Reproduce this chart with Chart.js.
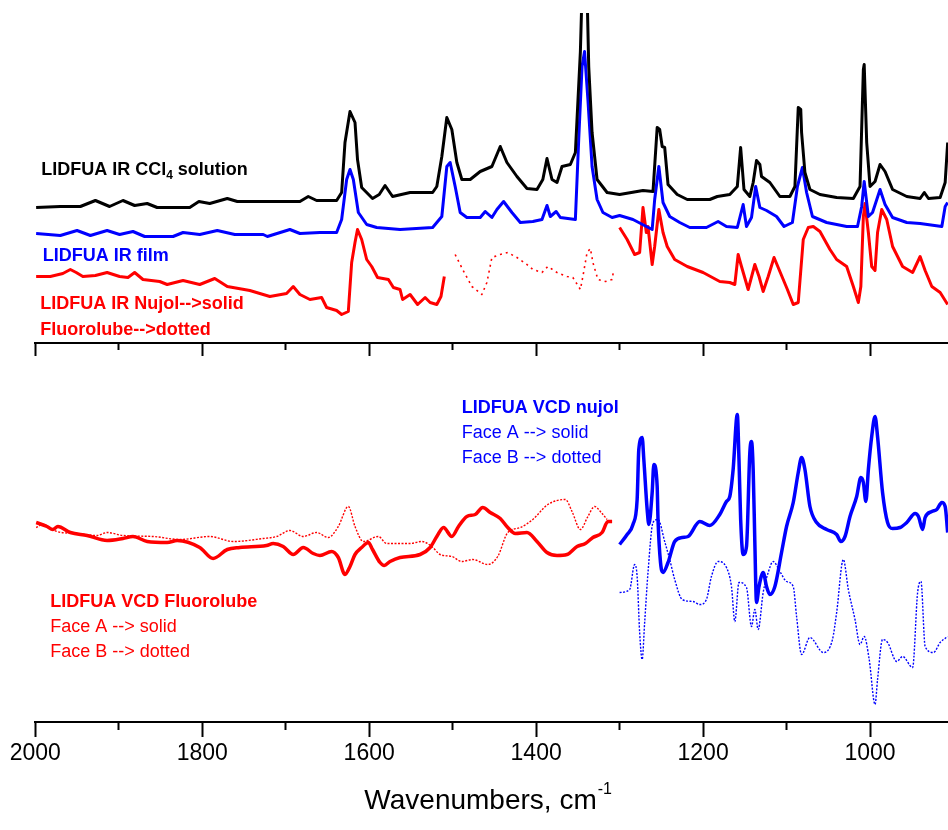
<!DOCTYPE html>
<html>
<head>
<meta charset="utf-8">
<script src="https://cdn.jsdelivr.net/npm/chart.js@4.4.0/dist/chart.umd.min.js"></script>
<style>
  html, body { margin: 0; padding: 0; background: #fff; }
  #wrap { width: 948px; height: 830px; }
</style>
</head>
<body>
<div id="wrap"><canvas id="grafico"></canvas></div>
<script>
// IR spectra (top) and VCD spectra (bottom), wavenumbers in cm-1,
// intensities in arbitrary units (each trace carries its own vertical offset)

// IR, CCl4 solution (black)
const ccl4Wn = [1999, 1970, 1946, 1928, 1911, 1895, 1881, 1866, 1854, 1815, 1804, 1791, 1770, 1758, 1683, 1673, 1663, 1639, 1633, 1629, 1623, 1617, 1614, 1609, 1596, 1588, 1581, 1572, 1551, 1524, 1519, 1513, 1507, 1501, 1495, 1489, 1479, 1467, 1453, 1443, 1435, 1423, 1411, 1399, 1392, 1387, 1381, 1375, 1369, 1359, 1353, 1347, 1345, 1339, 1337, 1333, 1327, 1315, 1300, 1272, 1260, 1255, 1252, 1249, 1246, 1242, 1231, 1219, 1192, 1183, 1168, 1159, 1155, 1151, 1144, 1140, 1136, 1132, 1130, 1120, 1108, 1096, 1090, 1086, 1083, 1082, 1078, 1072, 1060, 1040, 1020, 1012, 1008, 1007, 1004, 1000, 994, 988, 982, 973, 956, 940, 935, 930, 916, 910, 907];
const ccl4Abs = [51.4, 51.5, 51.5, 52.1, 51.5, 52.1, 51.6, 51.8, 51.4, 51.4, 52.0, 51.8, 52.3, 52.0, 52.0, 52.5, 52.1, 52.1, 52.9, 57.9, 61.0, 59.9, 56.2, 53.4, 52.3, 52.7, 53.6, 52.5, 52.9, 52.9, 53.5, 56.5, 60.4, 59.2, 55.9, 54.2, 54.2, 55.0, 55.5, 57.5, 55.9, 54.5, 53.3, 53.2, 54.2, 56.3, 54.2, 53.9, 55.5, 55.7, 56.9, 67.0, 73.0, 73.0, 65.5, 58.9, 54.2, 52.9, 52.7, 53.1, 53.0, 59.4, 59.2, 57.5, 57.4, 53.7, 52.7, 52.2, 52.2, 52.5, 52.7, 53.5, 57.4, 53.2, 52.5, 53.9, 56.1, 55.7, 54.5, 53.9, 52.5, 52.5, 53.5, 61.4, 61.2, 58.9, 54.9, 53.2, 52.7, 52.4, 52.3, 53.5, 65.2, 65.7, 57.9, 53.5, 54.0, 55.7, 55.0, 53.2, 52.5, 52.3, 52.9, 52.3, 52.4, 53.9, 57.9];

// IR, film (blue)
const filmWn = [1999, 1970, 1950, 1934, 1914, 1899, 1883, 1869, 1835, 1823, 1803, 1782, 1761, 1727, 1722, 1695, 1683, 1659, 1639, 1633, 1627, 1623, 1619, 1613, 1603, 1591, 1563, 1524, 1513, 1507, 1503, 1497, 1491, 1483, 1467, 1461, 1453, 1447, 1439, 1429, 1419, 1404, 1393, 1387, 1383, 1376, 1371, 1353, 1349, 1345, 1342, 1338, 1333, 1327, 1320, 1309, 1300, 1284, 1261, 1258, 1253, 1248, 1240, 1228, 1216, 1196, 1182, 1172, 1159, 1152, 1148, 1142, 1137, 1132, 1124, 1112, 1103, 1093, 1087, 1081, 1076, 1069, 1052, 1028, 1015, 1010, 1007, 1002, 997, 988, 982, 973, 956, 940, 914, 910, 907];
const filmAbs = [48.8, 48.6, 49.1, 48.6, 49.1, 48.7, 49.0, 48.5, 48.5, 48.9, 48.7, 49.1, 48.7, 48.7, 48.5, 49.2, 48.8, 48.9, 48.9, 50.2, 54.2, 55.2, 54.2, 50.9, 49.7, 49.4, 49.2, 49.4, 50.5, 55.5, 55.9, 53.5, 50.9, 50.4, 50.4, 51.0, 50.4, 51.2, 52.0, 50.9, 49.9, 50.0, 50.2, 51.6, 50.5, 51.0, 50.4, 50.2, 58.2, 65.5, 67.0, 62.2, 55.5, 52.2, 50.9, 50.4, 50.6, 50.2, 49.2, 52.2, 55.5, 51.9, 50.5, 49.9, 49.4, 49.4, 50.0, 49.5, 49.4, 51.7, 49.5, 50.4, 53.5, 51.4, 51.1, 50.5, 49.5, 49.9, 53.5, 55.4, 52.9, 50.5, 49.9, 49.5, 49.5, 51.5, 54.0, 50.5, 50.9, 53.2, 51.7, 50.4, 49.9, 49.8, 49.5, 51.5, 51.9];

// IR, Nujol mull (red solid), two windows
const nujolWnA = [1999, 1982, 1967, 1958, 1951, 1943, 1928, 1914, 1899, 1889, 1881, 1871, 1851, 1842, 1823, 1803, 1785, 1770, 1743, 1719, 1699, 1691, 1683, 1671, 1657, 1651, 1639, 1633, 1625, 1621, 1617, 1614, 1609, 1603, 1597, 1590, 1577, 1571, 1563, 1560, 1551, 1542, 1533, 1527, 1519, 1514, 1510];
const nujolAbsA = [44.5, 44.5, 44.8, 45.2, 44.9, 44.5, 44.6, 44.9, 44.5, 44.4, 44.9, 44.2, 44.0, 43.7, 44.1, 43.7, 44.3, 43.5, 43.1, 42.5, 42.8, 43.5, 42.7, 42.2, 42.4, 41.4, 41.1, 40.7, 41.0, 45.9, 47.9, 49.2, 48.2, 46.2, 45.5, 44.4, 44.2, 43.4, 43.2, 42.2, 42.7, 41.7, 42.4, 41.9, 41.7, 42.5, 44.5];
const nujolWnB = [1300, 1291, 1282, 1276, 1272, 1268, 1266, 1261, 1258, 1253, 1248, 1243, 1234, 1219, 1200, 1180, 1168, 1162, 1158, 1154, 1146, 1138, 1133, 1128, 1122, 1115, 1108, 1099, 1092, 1086, 1080, 1074, 1068, 1060, 1048, 1040, 1028, 1020, 1014, 1011, 1008, 1006, 1002, 998, 994, 991, 986, 980, 973, 961, 949, 940, 934, 926, 916, 907];
const nujolAbsB = [49.4, 48.2, 46.7, 46.9, 51.4, 48.9, 49.5, 45.7, 47.5, 51.2, 48.9, 47.5, 46.2, 45.5, 44.9, 44.0, 43.9, 43.7, 46.7, 45.5, 43.2, 45.7, 44.5, 43.0, 44.5, 46.4, 45.0, 43.2, 41.7, 41.9, 48.2, 49.4, 49.5, 49.0, 47.2, 46.2, 45.5, 43.5, 41.9, 43.5, 50.5, 51.8, 48.9, 45.5, 45.1, 48.9, 51.2, 50.2, 47.5, 45.5, 44.9, 46.5, 45.1, 43.5, 42.9, 41.7];

// IR, Fluorolube mull (red dotted)
const fluoroWn = [1497, 1488, 1477, 1465, 1459, 1453, 1443, 1434, 1423, 1411, 1404, 1393, 1386, 1375, 1363, 1356, 1347, 1344, 1339, 1335, 1332, 1326, 1317, 1309, 1307];
const fluoroAbs = [46.7, 45.2, 43.5, 42.7, 43.9, 46.4, 46.7, 46.9, 46.4, 45.7, 45.2, 44.9, 45.5, 44.9, 44.5, 44.4, 43.2, 44.5, 46.9, 47.3, 45.9, 44.2, 44.0, 44.2, 45.2];

// VCD, Fluorolube, face A (red solid) and face B (red dotted)
const vcdFluoroWnA = [1999, 1986, 1979, 1973, 1958, 1938, 1914, 1895, 1883, 1866, 1842, 1830, 1803, 1787, 1770, 1755, 1723, 1715, 1703, 1691, 1679, 1667, 1659, 1645, 1637, 1629, 1623, 1617, 1609, 1601, 1596, 1587, 1582, 1575, 1563, 1539, 1527, 1519, 1511, 1501, 1493, 1483, 1473, 1464, 1455, 1443, 1434, 1425, 1411, 1399, 1387, 1375, 1363, 1351, 1341, 1332, 1321, 1314, 1309];
const vcdFluoroA = [19.9, 19.5, 19.2, 19.5, 18.9, 18.6, 18.1, 18.3, 18.5, 18.0, 17.9, 18.1, 17.4, 16.3, 17.2, 17.4, 17.6, 17.8, 17.5, 16.7, 17.4, 16.8, 16.6, 17.0, 16.4, 14.7, 15.5, 16.7, 17.4, 17.9, 17.2, 15.9, 15.6, 16.0, 16.4, 16.7, 17.4, 18.5, 19.4, 18.5, 19.5, 20.5, 20.7, 21.4, 20.9, 20.3, 19.4, 18.8, 18.9, 18.0, 16.9, 16.6, 16.7, 17.5, 17.8, 18.4, 18.9, 20.0, 20.0];
const vcdFluoroWnB = [1999, 1991, 1974, 1950, 1926, 1914, 1895, 1859, 1827, 1791, 1763, 1727, 1711, 1695, 1679, 1663, 1649, 1637, 1625, 1617, 1607, 1589, 1579, 1551, 1537, 1525, 1515, 1501, 1489, 1476, 1458, 1446, 1434, 1419, 1404, 1386, 1365, 1357, 1347, 1338, 1330, 1321, 1315];
const vcdFluoroB = [19.4, 19.7, 19.0, 18.8, 18.6, 18.9, 18.6, 18.5, 18.2, 18.5, 18.0, 18.3, 18.5, 19.1, 18.5, 18.9, 18.4, 19.5, 21.5, 19.5, 18.0, 18.5, 17.8, 17.8, 18.0, 17.5, 16.7, 16.5, 16.0, 16.2, 15.7, 16.5, 18.9, 19.4, 20.2, 21.7, 22.2, 21.0, 19.2, 20.5, 21.5, 20.8, 20.2];

// VCD, Nujol, face A (blue solid) and face B (blue dotted)
const vcdNujolWnA = [1300, 1291, 1284, 1279, 1277, 1273, 1271, 1267, 1265, 1261, 1259, 1255, 1254, 1251, 1248, 1242, 1234, 1225, 1218, 1204, 1192, 1180, 1172, 1168, 1164, 1159, 1157, 1155, 1152, 1148, 1144, 1142, 1140, 1138, 1136, 1133, 1128, 1124, 1120, 1114, 1106, 1100, 1092, 1086, 1082, 1078, 1072, 1064, 1052, 1040, 1035, 1030, 1024, 1016, 1011, 1008, 1005, 1002, 998, 994, 991, 985, 979, 973, 964, 956, 946, 942, 937, 934, 926, 920, 914, 910, 907];
const vcdNujolA = [17.7, 18.7, 19.7, 22.2, 27.2, 28.4, 26.2, 21.2, 19.7, 22.9, 25.7, 23.5, 20.2, 15.9, 14.9, 15.9, 18.0, 18.4, 18.5, 20.0, 19.6, 20.7, 22.0, 22.5, 25.2, 30.7, 26.2, 20.2, 16.7, 17.5, 26.9, 28.0, 25.2, 17.9, 11.9, 13.5, 14.9, 13.5, 12.7, 13.5, 16.9, 19.5, 21.9, 24.9, 26.4, 25.2, 21.5, 19.9, 19.2, 18.7, 18.0, 18.5, 20.5, 22.5, 24.4, 23.9, 22.0, 25.2, 28.5, 30.5, 28.5, 22.9, 19.9, 19.3, 19.4, 19.9, 20.8, 20.5, 19.2, 20.4, 21.0, 21.2, 21.9, 21.5, 18.9];
const vcdNujolWnB = [1300, 1288, 1282, 1279, 1276, 1273, 1270, 1266, 1260, 1254, 1246, 1240, 1234, 1225, 1212, 1204, 1196, 1190, 1182, 1172, 1166, 1162, 1157, 1148, 1142, 1138, 1134, 1128, 1122, 1116, 1108, 1100, 1092, 1088, 1082, 1072, 1056, 1045, 1040, 1032, 1026, 1018, 1012, 1007, 1001, 994, 991, 985, 979, 968, 961, 949, 943, 939, 934, 924, 916, 907];
const vcdNujolB = [12.9, 13.2, 15.7, 14.5, 8.9, 6.2, 9.9, 14.9, 19.9, 20.2, 18.0, 16.2, 14.2, 12.2, 12.0, 11.7, 12.2, 14.5, 16.0, 15.4, 13.5, 10.0, 13.9, 13.4, 9.5, 11.2, 9.2, 12.9, 14.9, 16.0, 15.0, 14.0, 13.5, 10.5, 6.7, 8.4, 6.9, 8.2, 10.9, 16.2, 13.2, 10.2, 7.7, 8.5, 6.2, 1.7, 4.2, 8.2, 7.9, 6.0, 6.5, 5.4, 12.9, 14.0, 7.5, 6.9, 7.9, 8.5];

// x axis ticks
const majorTicks = [2000, 1800, 1600, 1400, 1200, 1000];
const minorTicks = [1900, 1700, 1500, 1300, 1100];

const xMin = 906.6, xMax = 2000;
const yMin = 0, yMax = 70.85;
const panelSplit = 37.85;   // y value where the IR panel axis sits

const RED = '#ff0000', BLUE = '#0000ff', BLACK = '#000000';
const FONT = "'Liberation Sans', Arial, sans-serif";

function pts(xs, ys) {
  return xs.map((x, i) => ({ x: x, y: ys[i] }));
}

function irLine(xs, ys, color, dash) {
  return {
    data: pts(xs, ys),
    borderColor: color,
    borderWidth: dash ? 1.6 : 3,
    borderDash: dash || [],
    borderJoinStyle: 'round',
    pointRadius: 0,
    tension: 0,
    fill: false
  };
}

function vcdLine(xs, ys, color, dash) {
  return {
    data: pts(xs, ys),
    borderColor: color,
    borderWidth: dash ? 1.4 : 3.5,
    borderDash: dash || [],
    borderJoinStyle: 'round',
    pointRadius: 0,
    cubicInterpolationMode: 'monotone',
    fill: false
  };
}

function tickAxis(ticks, yPos, len, showLabels) {
  return {
    type: 'linear',
    min: xMin,
    max: xMax,
    reverse: true,
    position: { y: yPos },
    afterBuildTicks: axis => { axis.ticks = ticks.map(v => ({ value: v })); },
    grid: { drawOnChartArea: false, drawTicks: true, tickLength: len, tickWidth: 2, tickColor: BLACK },
    border: { display: true, color: BLACK, width: 2 },
    ticks: {
      display: showLabels,
      autoSkip: false,
      maxRotation: 0,
      padding: 4,
      color: BLACK,
      font: { family: FONT, size: 23 },
      callback: v => String(v)
    }
  };
}

// labels written inside the plot, placed in data coordinates
const textLabels = [
  { wn: 1993, y: 55.15, color: BLACK, bold: true, parts: [['LIDFUA IR CCl', 0], ['4', 1], [' solution', 0]] },
  { wn: 1991, y: 46.55, color: BLUE, bold: true, parts: [['LIDFUA IR film', 0]] },
  { wn: 1994, y: 41.75, color: RED, bold: true, parts: [['LIDFUA IR Nujol-->solid', 0]] },
  { wn: 1994, y: 39.15, color: RED, bold: true, parts: [['Fluorolube-->dotted', 0]] },
  { wn: 1982, y: 11.95, color: RED, bold: true, parts: [['LIDFUA VCD Fluorolube', 0]] },
  { wn: 1982, y: 9.45, color: RED, bold: false, parts: [['Face A --> solid', 0]] },
  { wn: 1982, y: 6.95, color: RED, bold: false, parts: [['Face B --> dotted', 0]] },
  { wn: 1489, y: 31.35, color: BLUE, bold: true, parts: [['LIDFUA VCD nujol', 0]] },
  { wn: 1489, y: 28.85, color: BLUE, bold: false, parts: [['Face A --> solid', 0]] },
  { wn: 1489, y: 26.35, color: BLUE, bold: false, parts: [['Face B --> dotted', 0]] }
];

const textPlugin = {
  id: 'textPlugin',
  afterDraw(chart) {
    const ctx = chart.ctx;
    const xs = chart.scales.x, ys = chart.scales.y;
    ctx.save();
    ctx.textBaseline = 'middle';
    ctx.textAlign = 'left';
    textLabels.forEach(l => {
      let px = xs.getPixelForValue(l.wn);
      const py = ys.getPixelForValue(l.y);
      ctx.fillStyle = l.color;
      l.parts.forEach(([t, sub]) => {
        const size = sub ? 12 : 18;
        ctx.font = (l.bold ? 'bold ' : '') + size + 'px ' + FONT;
        ctx.fillText(t, px, py + (sub ? 6 : 0));
        px += ctx.measureText(t).width;
      });
    });
    // axis title with superscript
    const area = chart.chartArea;
    const main = 'Wavenumbers, cm';
    ctx.fillStyle = BLACK;
    ctx.font = '28px ' + FONT;
    const w1 = ctx.measureText(main).width;
    ctx.font = '16px ' + FONT;
    const w2 = ctx.measureText('-1').width;
    let tx = (area.left + area.right) / 2 - (w1 + w2) / 2 - 4;
    const ty = area.bottom + 80;
    ctx.font = '28px ' + FONT;
    ctx.fillText(main, tx, ty);
    ctx.font = '16px ' + FONT;
    ctx.fillText('-1', tx + w1 + 1, ty - 12);
    ctx.restore();
  }
};

const ctx = document.getElementById('grafico').getContext('2d');
new Chart(ctx, {
  type: 'line',
  data: {
    datasets: [
      irLine(ccl4Wn, ccl4Abs, BLACK),
      irLine(filmWn, filmAbs, BLUE),
      irLine(nujolWnA, nujolAbsA, RED),
      irLine(nujolWnB, nujolAbsB, RED),
      irLine(fluoroWn, fluoroAbs, RED, [2, 4]),
      vcdLine(vcdFluoroWnA, vcdFluoroA, RED),
      vcdLine(vcdFluoroWnB, vcdFluoroB, RED, [2, 1.5]),
      vcdLine(vcdNujolWnA, vcdNujolA, BLUE),
      vcdLine(vcdNujolWnB, vcdNujolB, BLUE, [2, 1.5])
    ]
  },
  options: {
    responsive: true,
    maintainAspectRatio: false,
    animation: false,
    layout: { padding: { left: 35.3, right: 0, top: 13, bottom: 108.5 } },
    plugins: { legend: { display: false }, tooltip: { enabled: false } },
    scales: {
      x: tickAxis(majorTicks, yMin, 14, true),
      xMinor: tickAxis(minorTicks, yMin, 7, false),
      xMid: tickAxis(majorTicks, panelSplit, 12, false),
      xMidMinor: tickAxis(minorTicks, panelSplit, 6, false),
      y: { type: 'linear', min: yMin, max: yMax, display: false }
    }
  },
  plugins: [textPlugin]
});
</script>
</body>
</html>
